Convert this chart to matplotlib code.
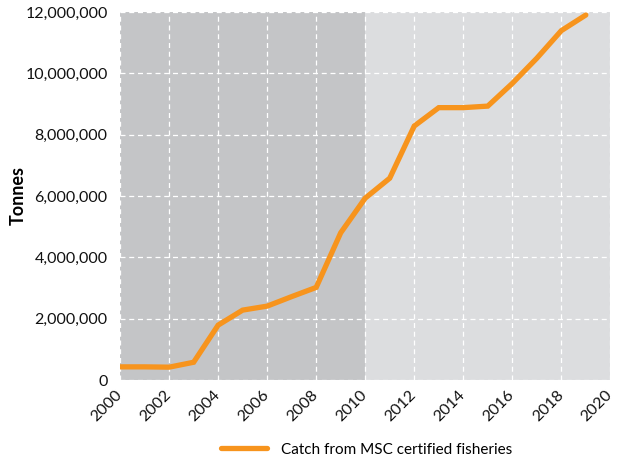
import matplotlib
matplotlib.use("Agg")
import matplotlib.pyplot as plt
from matplotlib.ticker import FuncFormatter

years = list(range(2000, 2020))
catch = [430000, 430000, 420000, 580000, 1790000, 2280000, 2410000, 2720000,
         3020000, 4800000, 5930000, 6580000, 8280000, 8880000, 8880000,
         8930000, 9670000, 10490000, 11390000, 11900000]

xticks = list(range(2000, 2021, 2))
yticks = list(range(0, 12000001, 2000000))

plt.rcParams['font.family'] = ['Lato', 'DejaVu Sans']

fig = plt.figure(figsize=(6.19, 4.59), dpi=100)
ax = fig.add_axes([0.194, 0.172, 0.792, 0.802])

ax.set_facecolor('#dcdddf')
ax.axvspan(2000, 2010, color='#c4c5c7', zorder=0, lw=0)

ax.plot(years, catch, color='#f7941d', lw=3.8, solid_capstyle='round',
        solid_joinstyle='miter', zorder=3, label='Catch from MSC certified fisheries')

ax.set_xlim(2000, 2020)
ax.set_ylim(0, 12000000)
ax.set_xticks(xticks)
ax.set_yticks(yticks)
ax.yaxis.set_major_formatter(FuncFormatter(lambda v, p: f'{int(v):,}'))
ax.grid(True, color='white', ls=(0, (4, 3)), lw=0.9, zorder=1)
ax.set_axisbelow(True)

for s in ax.spines.values():
    s.set_visible(False)
ax.tick_params(length=0, labelsize=11.5, colors='#111111')
ax.tick_params(axis='y', pad=9)
ax.tick_params(axis='x', pad=9)
for lbl in ax.get_xticklabels():
    lbl.set_rotation(45)
    lbl.set_ha('right')
    lbl.set_va('center')
    lbl.set_rotation_mode('anchor')

ax.set_ylabel('Tonnes', fontsize=13, fontweight='bold', labelpad=-1)

fig.legend(loc='center', bbox_to_anchor=(0.592, 0.02), frameon=False,
           fontsize=11, handlelength=3.0, handletextpad=0.9)

fig.savefig('out.png', dpi=100)
